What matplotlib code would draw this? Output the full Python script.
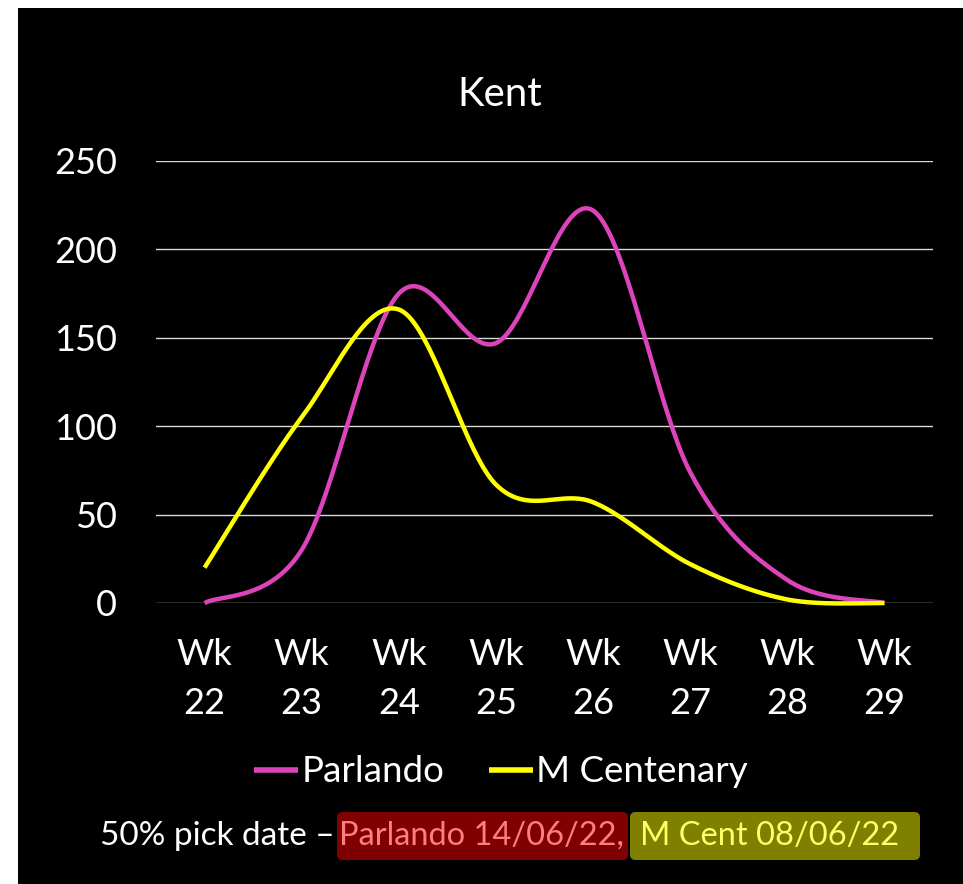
import matplotlib.pyplot as plt
import numpy as np
from matplotlib.patches import Rectangle, FancyBboxPatch

weeks = ["Wk\n22", "Wk\n23", "Wk\n24", "Wk\n25", "Wk\n26", "Wk\n27", "Wk\n28", "Wk\n29"]
parlando = [0, 30, 175, 147, 222, 74, 13, 0]
m_centenary = [20, 105, 166, 67, 57, 22, 2, 0]

PINK = "#DD44BB"
YELLOW = "#FFFF00"
FONT = "Lato"
W, H = 963, 884


def smooth_xy(values, n=40):
    """Excel-style smoothed line: cubic Bezier through each point."""
    y = np.asarray(values, dtype=float)
    x = np.arange(len(y), dtype=float)
    xs, ys = [], []
    for i in range(len(y) - 1):
        i0 = max(i - 1, 0)
        i3 = min(i + 2, len(y) - 1)
        p0 = np.array([x[i], y[i]])
        p3 = np.array([x[i + 1], y[i + 1]])
        c1 = p0 + (p3 - np.array([x[i0], y[i0]])) / 6
        c2 = p3 - (np.array([x[i3], y[i3]]) - p0) / 6
        t = np.linspace(0, 1, n)[:, None]
        pts = ((1 - t) ** 3) * p0 + 3 * ((1 - t) ** 2) * t * c1 + 3 * (1 - t) * t ** 2 * c2 + t ** 3 * p3
        xs.extend(pts[:, 0])
        ys.extend(pts[:, 1])
    return np.array(xs), np.array(ys)


fig = plt.figure(figsize=(W / 100, H / 100), dpi=100, facecolor="white")
fig.patches.append(Rectangle((18 / W, 0), 1 - 18 / W, 1 - 8 / H, transform=fig.transFigure,
                             facecolor="black", edgecolor="none", zorder=-10))

ax = fig.add_axes([156 / W, 1 - 603 / H, (933 - 156) / W, (603 - 161) / H])
ax.set_facecolor("black")

for vals, col, lab in [(parlando, PINK, "Parlando"), (m_centenary, YELLOW, "M Centenary")]:
    sx, sy = smooth_xy(vals)
    ax.plot(sx, sy, color=col, lw=3.2, label=lab, clip_on=False, solid_capstyle="butt", zorder=3)

ax.set_xlim(-0.5, len(weeks) - 0.5)
ax.set_ylim(0, 250)
ax.set_yticks(np.arange(0, 251, 50))
ax.set_xticks(range(len(weeks)))
ax.set_xticklabels(weeks, fontfamily=FONT, fontsize=26, color="white", linespacing=1.6)
for lbl in ax.get_yticklabels():
    lbl.set_fontfamily(FONT)
    lbl.set_fontsize(26)
    lbl.set_color("white")
ax.tick_params(axis="both", length=0)
ax.tick_params(axis="y", pad=28)
ax.tick_params(axis="x", pad=25)
ax.grid(axis="y", color="#D9D9D9", lw=1.0)
ax.set_axisbelow(True)
for sp in ax.spines.values():
    sp.set_visible(False)

fig.text(500 / W, 1 - 95 / H, "Kent", ha="center", va="center", color="white",
         fontfamily=FONT, fontsize=29)

leg = fig.legend(loc="center", bbox_to_anchor=(501 / W, 1 - 772 / H), ncol=2, frameon=False,
                 handlelength=1.2, handletextpad=0.1, columnspacing=1.2,
                 prop={"family": FONT, "size": 26.5})
for t in leg.get_texts():
    t.set_color("white")
for h in leg.get_lines():
    h.set_linewidth(4)

# footer with 50% pick dates
fig.text(335 / W, 1 - 836 / H, "50% pick date \u2013", ha="right", va="center", color="white",
         fontfamily=FONT, fontsize=24)
fig.patches.append(FancyBboxPatch((337 / W, 1 - 860 / H), (628 - 337) / W, 48 / H,
                                  boxstyle="round,pad=0,rounding_size=0.006",
                                  transform=fig.transFigure, facecolor="#7F0000", edgecolor="none"))
fig.patches.append(FancyBboxPatch((630 / W, 1 - 860 / H), (920 - 630) / W, 48 / H,
                                  boxstyle="round,pad=0,rounding_size=0.006",
                                  transform=fig.transFigure, facecolor="#808000", edgecolor="none"))
fig.text(339 / W, 1 - 836 / H, "Parlando 14/06/22,", ha="left", va="center", color="#FF7C80",
         fontfamily=FONT, fontsize=23.5)
fig.text(640 / W, 1 - 836 / H, "M Cent 08/06/22", ha="left", va="center", color="#FFFF66",
         fontfamily=FONT, fontsize=23.5)

fig.savefig("out.png", dpi=100, facecolor=fig.get_facecolor())
